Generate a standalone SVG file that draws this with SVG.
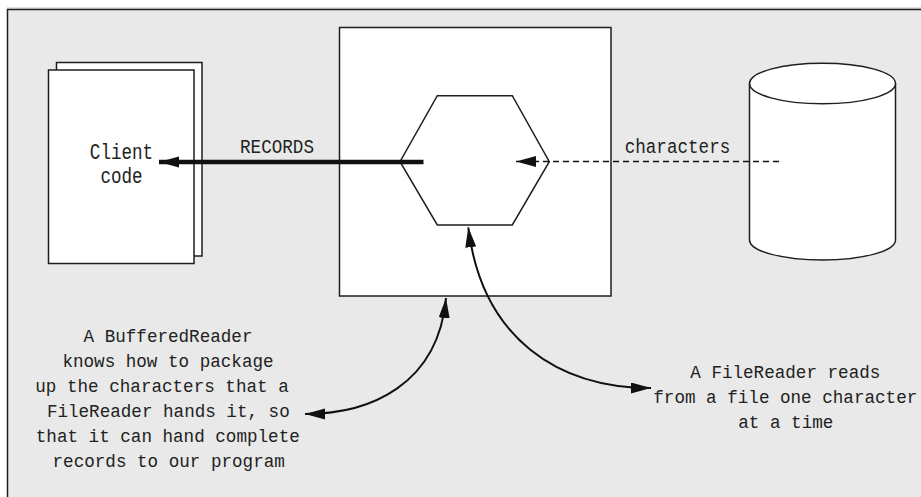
<svg xmlns="http://www.w3.org/2000/svg" width="921" height="497" viewBox="0 0 921 497">
  <style>
    .box { fill: #ffffff; stroke: #1e1e1e; stroke-width: 1.5; }
    .txt { font-family: "Liberation Mono", "DejaVu Sans Mono", monospace; font-size: 17.6px; fill: #222222; text-anchor: middle; }
    .conn { fill: none; stroke: #111111; }
  </style>
  <defs>
    <marker id="ah" markerUnits="userSpaceOnUse" markerWidth="22" markerHeight="12" refX="20" refY="5.5" orient="auto-start-reverse" viewBox="0 0 22 12">
      <path d="M0,0 L20,5.5 L0,11 z" fill="#111111"/>
    </marker>
  </defs>
  <rect x="0" y="0" width="921" height="497" fill="#ffffff"/>
  <line x1="7" y1="8" x2="921" y2="8" stroke="#bdbdbd" stroke-width="1"/>
  <rect id="frame" x="7.5" y="9.5" width="920" height="495" fill="#e8e9e8" stroke="#1e1e1e" stroke-width="1.5"/>

  <g id="client">
    <rect class="box" x="56.5" y="62.5" width="145.5" height="193.5"/>
    <rect class="box" x="48.5" y="70" width="145.5" height="193.5"/>
    <g transform="translate(121.5,158.5) scale(1,1.22)">
      <text class="txt" x="0" y="0">Client</text>
      <text class="txt" x="0" y="20.3">code</text>
    </g>
  </g>

  <g id="buffered-reader">
    <rect class="box" x="339.5" y="27.5" width="271.5" height="268.5"/>
  </g>

  <g id="file-reader">
    <polygon class="box" points="437.3,95.7 512.3,95.7 549.3,161.7 512.3,225 437.3,225 400,161.7"/>
  </g>

  <g id="file">
    <path class="box" d="M749.5,83.5 L749.5,240 A73,20 0 0 0 895.5,240 L895.5,83.5"/>
    <ellipse class="box" cx="822.5" cy="83.5" rx="73" ry="20.3"/>
  </g>

  <g id="connectors">
    <line class="conn" x1="423.5" y1="162" x2="159" y2="162" stroke-width="4.4" marker-end="url(#ah)"/>
    <line class="conn" x1="779" y1="161.5" x2="516" y2="161.5" stroke-width="1.5" stroke-dasharray="6,4" marker-end="url(#ah)"/>
    <path class="conn" d="M446,298 C438,385 370,414 305,414" stroke-width="2" marker-start="url(#ah)" marker-end="url(#ah)"/>
    <path class="conn" d="M468.3,227.3 C482,340 560,388 651,388" stroke-width="2" marker-start="url(#ah)" marker-end="url(#ah)"/>
  </g>

  <g id="labels">
    <text class="txt" transform="translate(277,153.3) scale(1,1.12)" x="0" y="0">RECORDS</text>
    <text class="txt" transform="translate(677.5,153.3) scale(1,1.1)" x="0" y="0">characters</text>
    <text class="txt" x="168" y="341.7">A BufferedReader</text>
    <text class="txt" x="168" y="366.7">knows how to package</text>
    <text class="txt" x="162" y="391.7">up the characters that a</text>
    <text class="txt" x="168.3" y="416.7">FileReader hands it, so</text>
    <text class="txt" x="167.8" y="441.7">that it can hand complete</text>
    <text class="txt" x="168.7" y="466.7">records to our program</text>
    <text class="txt" x="785.3" y="378.3">A FileReader reads</text>
    <text class="txt" x="785.3" y="403.3">from a file one character</text>
    <text class="txt" x="785.8" y="428.3">at a time</text>
  </g>
</svg>
